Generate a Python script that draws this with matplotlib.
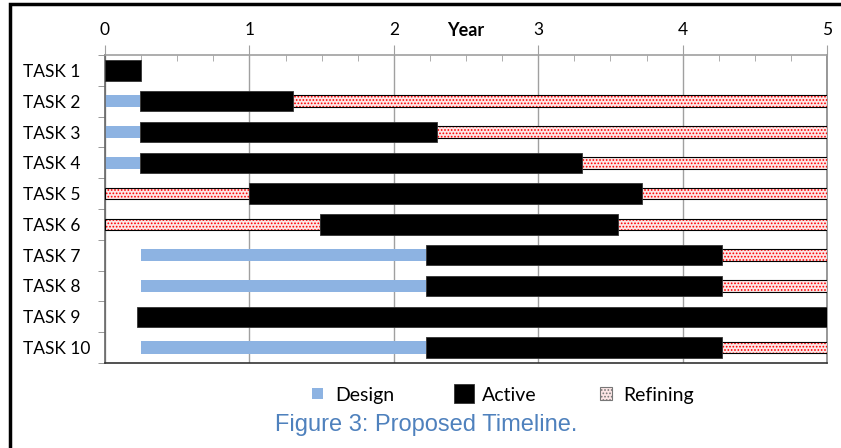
import numpy as np
import matplotlib.pyplot as plt
from matplotlib.patches import Rectangle
from matplotlib.legend_handler import HandlerPatch

# data (years)
tasks = ['TASK 1', 'TASK 2', 'TASK 3', 'TASK 4', 'TASK 5',
         'TASK 6', 'TASK 7', 'TASK 8', 'TASK 9', 'TASK 10']
nan = np.nan
design_start = [nan, 0, 0, 0, nan, nan, 0.25, 0.25, nan, 0.25]
design_end = [nan, 0.24, 0.24, 0.24, nan, nan, 2.22, 2.22, nan, 2.22]
active_start = [0, 0.24, 0.24, 0.24, 1.0, 1.49, 2.22, 2.22, 0.22, 2.22]
active_end = [0.25, 1.30, 2.30, 3.30, 3.72, 3.55, 4.27, 4.27, 5.0, 4.27]
prerefine_start = [nan, nan, nan, nan, 0, 0, nan, nan, nan, nan]
prerefine_end = [nan, nan, nan, nan, 1.0, 1.49, nan, nan, nan, nan]
refine_start = [nan, 1.28, 2.27, 3.27, 3.69, 3.53, 4.25, 4.25, nan, 4.25]
refine_end = [nan, 5, 5, 5, 5, 5, 5, 5, nan, 5]

design_col = '#8DB3E2'
refine_face = '#FCE6E6'
cap_col = '#4F81BD'

plt.rcParams['font.family'] = ['Lato', 'DejaVu Sans']
plt.rcParams['hatch.linewidth'] = 0.8

fig = plt.figure(figsize=(8.41, 4.48), dpi=100)
ax = fig.add_axes([105 / 841, 1 - 363 / 448, 722 / 841, 308 / 448])

y = np.arange(len(tasks))
ds = np.array(design_start); de = np.array(design_end)
as_ = np.array(active_start); ae = np.array(active_end)
ps = np.array(prerefine_start); pe = np.array(prerefine_end)
rs = np.array(refine_start); re_ = np.array(refine_end)


def refine_bars(start, end):
    ax.barh(y, end - start, left=start, height=0.38, color=refine_face,
            edgecolor='red', hatch='.....', linewidth=0, zorder=3)
    ax.barh(y, end - start, left=start, height=0.38, facecolor='none',
            edgecolor='black', linewidth=0.8, zorder=3)


refine_bars(ps, pe)
refine_bars(rs, re_)
ax.barh(y, de - ds, left=ds, height=0.4, color=design_col, linewidth=0, zorder=2)
ax.barh(y, ae - as_, left=as_, height=0.66, color='black', edgecolor='#333333',
        linewidth=0.6, zorder=4)

ax.set_xlim(0, 5)
ax.set_ylim(len(tasks) - 0.5, -0.5)
ax.xaxis.tick_top()
ax.set_xticks(range(6))
ax.set_xticks(np.arange(0, 5.01, 0.25), minor=True)
ax.tick_params(axis='x', which='major', direction='out', length=7, color='#A0A0A0',
               labelsize=12.5, pad=5)
ax.tick_params(axis='x', which='minor', direction='in', length=4, color='#A0A0A0')
ax.grid(axis='x', which='major', color='#A0A0A0', linewidth=1, zorder=0)
ax.set_yticks(y)
ax.set_yticklabels(tasks)
ax.set_yticks(np.arange(-0.5, len(tasks), 1), minor=True)
ax.tick_params(axis='y', which='major', length=0, labelsize=12.5, pad=59)
ax.tick_params(axis='y', which='minor', direction='out', length=5, color='#888888')
for lab in ax.get_yticklabels():
    lab.set_horizontalalignment('left')

ax.spines['top'].set_color('#A0A0A0')
ax.spines['left'].set_color('#666666')
ax.spines['bottom'].set_color('#333333')
ax.spines['right'].set_color('#888888')
for s in ax.spines.values():
    s.set_linewidth(1.2)

ax.text(2.5, 1.052, 'Year', transform=ax.get_xaxis_transform(), ha='center',
        va='bottom', fontsize=13, fontweight='bold')


def square(size):
    def f(legend, orig_handle, xdescent, ydescent, width, height, fontsize):
        return Rectangle((width / 2 - size / 2 - xdescent, height / 2 - size / 2 - ydescent),
                         size, size)
    return HandlerPatch(patch_func=f)


h_design = Rectangle((0, 0), 1, 1, facecolor=design_col, linewidth=0)
h_active = Rectangle((0, 0), 1, 1, facecolor='black', edgecolor='#333333', linewidth=0.6)
h_refine = Rectangle((0, 0), 1, 1, facecolor=refine_face, edgecolor='#777777',
                     hatch='.....', linewidth=0.8)
fig.legend([h_design, h_active, h_refine], ['Design', 'Active', 'Refining'],
           loc='center', bbox_to_anchor=(500 / 841, 1 - 395 / 448), ncol=3,
           frameon=False, fontsize=14, handlelength=1.2, handletextpad=0.3,
           columnspacing=3.0,
           handler_map={h_design: square(8), h_active: square(14), h_refine: square(9)})

fig.text(426 / 841, 1 - 425 / 448, 'Figure 3: Proposed Timeline.', ha='center',
         va='center', fontsize=17, color=cap_col, family='Liberation Sans')

fig.patches.append(Rectangle((10 / 841, -0.05), 1.0, 1 - 4 / 448 + 0.05,
                             transform=fig.transFigure, fill=False,
                             edgecolor='black', linewidth=2.5))

fig.savefig('out.png', dpi=100)
